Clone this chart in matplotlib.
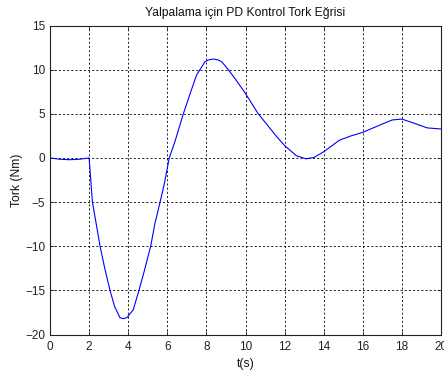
import matplotlib
matplotlib.use("Agg")
import matplotlib.pyplot as plt

plt.rcParams['font.family'] = ['Liberation Sans', 'DejaVu Sans']

# Torque response of the PD controller (time in s, torque in Nm)
time_s = [0.0, 0.5, 1.0, 1.5, 2.0, 2.17, 2.39, 2.56, 2.8, 3.07, 3.3, 3.58, 3.75, 3.93,
          4.26, 4.55, 4.8, 5.15, 5.37, 5.63, 5.85, 6.1, 6.39, 6.82, 7.2, 7.5, 7.67,
          7.93, 8.1, 8.36, 8.6, 8.78, 9.12, 9.46, 9.97, 10.65, 11.2, 11.6, 12.0,
          12.6, 13.1, 13.5, 14.0, 14.8, 15.4, 16.0, 16.9, 17.5, 18.0, 18.6, 19.3, 20.0]
torque_nm = [0.0, -0.15, -0.2, -0.15, 0.0, -5.0, -7.8, -10.0, -12.5, -15.0, -16.8,
             -18.1, -18.2, -18.1, -17.2, -15.0, -13.0, -10.0, -7.4, -5.0, -2.9, 0.0,
             1.85, 5.0, 7.5, 9.4, 10.0, 10.9, 11.1, 11.2, 11.1, 10.9, 10.0, 9.0, 7.4,
             5.0, 3.5, 2.4, 1.4, 0.25, -0.1, 0.05, 0.7, 2.0, 2.5, 2.9, 3.75, 4.3, 4.4,
             3.95, 3.4, 3.28]

x_ticks = [0, 2, 4, 6, 8, 10, 12, 14, 16, 18, 20]
y_ticks = [-20, -15, -10, -5, 0, 5, 10, 15]

fig = plt.figure(figsize=(4.44, 3.74), dpi=100)
ax = fig.add_axes([50 / 444, 1 - 334.5 / 374, 391 / 444, 309 / 374])

ax.plot(time_s, torque_nm, color=(0, 0, 1), linewidth=0.8)

ax.set_xlim(0, 20)
ax.set_ylim(-20, 15)
ax.set_xticks(x_ticks)
ax.set_yticks(y_ticks)
ax.grid(True, color='black', linestyle=(0, (2.5, 2.5)), linewidth=0.6)
ax.tick_params(direction='in', length=3, width=0.6, labelsize=8.5, colors='#222222',
               top=True, right=True)
ax.tick_params(axis='x', pad=4.5)
ax.tick_params(axis='y', pad=3.5)
for sp in ax.spines.values():
    sp.set_linewidth(0.8)
    sp.set_color('#222222')

ax.set_title('Yalpalama için PD Kontrol Tork Eğrisi', fontsize=8.7, pad=6.5, color='#111111')
ax.set_xlabel('t(s)', fontsize=8.7, labelpad=3.5, color='#111111')
ax.set_ylabel('Tork (Nm)', fontsize=8.7, labelpad=1.5, color='#111111')

fig.savefig('out.png', dpi=100)
